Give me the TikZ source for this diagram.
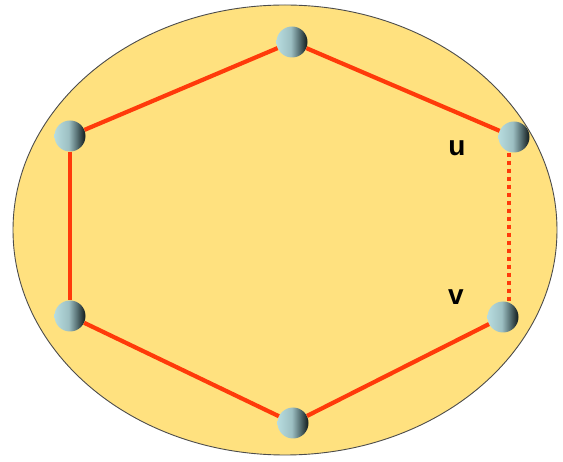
\documentclass[tikz,border=0pt]{standalone}
\usepackage{fontspec}
\setmainfont{Liberation Sans}
\definecolor{fillY}{HTML}{FFE17F}
\definecolor{edgeR}{HTML}{FF3A0A}
\definecolor{ballA}{HTML}{B7DCDF}
\definecolor{ballB}{HTML}{9DBFC3}
\definecolor{ballC}{HTML}{587275}
\definecolor{ballD}{HTML}{1A2526}
\pgfdeclarehorizontalshading{ballshade}{100bp}{color(0bp)=(ballA); color(25bp)=(ballA); color(48bp)=(ballB); color(61bp)=(ballC); color(73bp)=(ballD); color(100bp)=(ballD)}
\begin{document}
\begin{tikzpicture}[x=1pt,y=-1pt,
  ball/.style={circle, minimum size=31pt, inner sep=0pt, shading=ballshade},
  edgeline/.style={draw=edgeR, line width=4.2pt},
  dotline/.style={draw=edgeR, line width=4pt, dash pattern=on 4pt off 4pt},
  lbl/.style={font=\bfseries\fontsize{28}{30}\selectfont, inner sep=0pt}]
\useasboundingbox (0,0) rectangle (563,462);
\fill[white] (0,0) rectangle (563,462);
\draw[fill=fillY, draw=black!70, line width=0.9pt] (285,230) ellipse [x radius=272, y radius=225];
\node[ball] (t) at (292,42) {};
\node[ball] (u) at (514,137) {};
\node[ball] (v) at (503,317) {};
\node[ball] (b) at (293,423) {};
\node[ball] (ll) at (70,316) {};
\node[ball] (lu) at (70,136) {};
\draw[edgeline] (t) -- (lu);
\draw[edgeline] (lu) -- (ll);
\draw[edgeline] (ll) -- (b);
\draw[edgeline] (b) -- (v);
\draw[edgeline] (t) -- (u);
\draw[dotline] ([xshift=-5pt]u.south) -- ([xshift=6pt]v.north);
\node[lbl] (ul) at (457,148) {u};
\node[lbl] (vl) at (456,297) {v};
\end{tikzpicture}
\end{document}
